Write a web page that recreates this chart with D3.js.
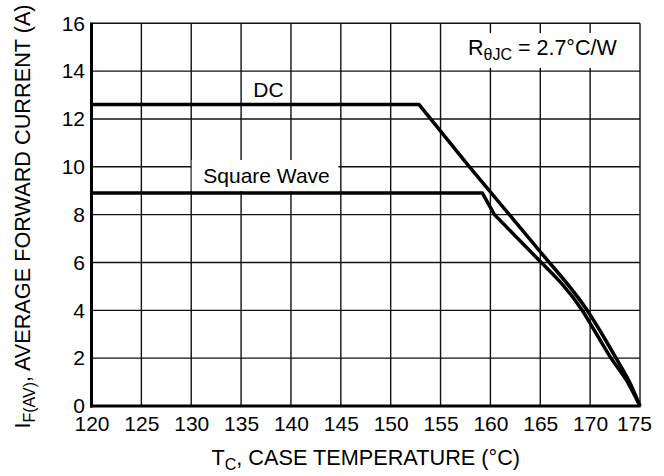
<!DOCTYPE html>
<html>
<head>
<meta charset="utf-8">
<script src="https://cdn.jsdelivr.net/npm/d3@7"></script>
<style>
  html, body { margin: 0; padding: 0; background: #fff; }
  text { font-family: "Liberation Sans", Arial, sans-serif; fill: #000; }
</style>
</head>
<body>
<div id="chart"></div>
<script>
// values
var xTicks = [120, 125, 130, 135, 140, 145, 150, 155, 160, 165, 170, 175];
var yTicks = [0, 2, 4, 6, 8, 10, 12, 14, 16];

var tempDC = [120, 152.85, 157.9, 161.9, 165.9, 169.7, 171.2, 172.6, 173.95, 175];
var currDC = [12.6, 12.6, 10, 8, 6, 4, 3, 2, 1, 0];

var tempSW = [120, 159.2, 160.4, 165.1, 169.2, 170.65, 172.1, 173.75, 175];
var currSW = [8.9, 8.9, 8, 6, 4, 3, 2, 1, 0];

var w = 664;
var h = 476;
var plotL = 91.5, plotR = 640, plotT = 23.3, plotB = 406;
var fs = '21px';
var fsTitle = '21.7px';
var fsSub = '16px';

var svg = d3.select('#chart')
  .append('svg')
  .attr('width', w)
  .attr('height', h);

var x = d3.scaleLinear().domain([120, 175]).range([plotL, plotR]);
var y = d3.scaleLinear().domain([0, 16]).range([plotB, plotT]);

// grid
svg.append('g')
  .selectAll('line')
  .data(xTicks)
  .enter()
  .append('line')
  .attr('x1', function (d) { return x(d); })
  .attr('x2', function (d) { return x(d); })
  .attr('y1', plotT)
  .attr('y2', plotB)
  .style('stroke', '#111')
  .style('stroke-width', 1.4);

svg.append('g')
  .selectAll('line')
  .data(yTicks)
  .enter()
  .append('line')
  .attr('x1', plotL)
  .attr('x2', plotR)
  .attr('y1', function (d) { return y(d); })
  .attr('y2', function (d) { return y(d); })
  .style('stroke', '#111')
  .style('stroke-width', 1.4);

// white boxes behind labels
var boxes = [
  { x: 460, y: 33, w: 166, h: 35 },
  { x: 191.7, y: 160, w: 146.6, h: 31 },
  { x: 248, y: 78, w: 40, h: 24 }
];
svg.append('g')
  .selectAll('rect')
  .data(boxes)
  .enter()
  .append('rect')
  .attr('x', function (d) { return d.x; })
  .attr('y', function (d) { return d.y; })
  .attr('width', function (d) { return d.w; })
  .attr('height', function (d) { return d.h; })
  .style('fill', '#fff');

// thick left and bottom axes
svg.append('line')
  .attr('x1', plotL).attr('x2', plotL)
  .attr('y1', plotT - 0.7).attr('y2', plotB + 1.5)
  .style('stroke', '#000').style('stroke-width', 3);
svg.append('line')
  .attr('x1', plotL - 1.5).attr('x2', plotR + 0.7)
  .attr('y1', plotB).attr('y2', plotB)
  .style('stroke', '#000').style('stroke-width', 3);

// curves: straight up to the 6 A point, smooth tail after it
var straight = d3.line()
  .x(function (d) { return x(d[0]); })
  .y(function (d) { return y(d[1]); });
var smooth = d3.line()
  .x(function (d) { return x(d[0]); })
  .y(function (d) { return y(d[1]); })
  .curve(d3.curveMonotoneX);

var series = [
  { pts: d3.zip(tempDC, currDC), k: 4 },
  { pts: d3.zip(tempSW, currSW), k: 3 }
];

svg.selectAll('path.curve')
  .data(series)
  .enter()
  .append('path')
  .attr('class', 'curve')
  .attr('d', function (d) {
    var head = straight(d.pts.slice(0, d.k + 1));
    var tail = smooth(d.pts.slice(d.k)).replace(/^M[^CL]*/, '');
    return head + tail;
  })
  .style('fill', 'none')
  .style('stroke', '#000')
  .style('stroke-width', 3.5)
  .style('stroke-linejoin', 'round');

// axes labels
var xAxis = d3.axisBottom(x).tickValues(xTicks).tickSize(0).tickPadding(10);
var gx = svg.append('g')
  .attr('transform', 'translate(0,' + plotB + ')')
  .call(xAxis);
gx.select('.domain').remove();
gx.selectAll('text')
  .style('font-size', fs)
  .style('font-family', '"Liberation Sans", Arial, sans-serif')
  .attr('fill', '#000');
gx.selectAll('.tick:last-of-type text').attr('dx', '-6');

var yAxis = d3.axisLeft(y).tickValues(yTicks).tickSize(0).tickPadding(6.5);
var gy = svg.append('g')
  .attr('transform', 'translate(' + plotL + ',0)')
  .call(yAxis);
gy.select('.domain').remove();
gy.selectAll('text')
  .style('font-size', fs)
  .style('font-family', '"Liberation Sans", Arial, sans-serif')
  .attr('fill', '#000');

// series labels
svg.append('text')
  .attr('x', 253.3).attr('y', 96.7)
  .style('font-size', fs)
  .text('DC');
svg.append('text')
  .attr('x', 203.3).attr('y', 183.3)
  .style('font-size', fs)
  .text('Square Wave');

// thermal resistance note
var note = svg.append('text')
  .attr('x', 468).attr('y', 55)
  .style('font-size', '21.5px');
note.append('tspan').text('R');
note.append('tspan').attr('dy', 5).style('font-size', fsSub).text('\u03B8JC');
note.append('tspan').attr('dy', -5).text(' = 2.7\u00B0C/W');

// x title
var xt = svg.append('text')
  .attr('x', (plotL + plotR) / 2).attr('y', 465)
  .attr('text-anchor', 'middle')
  .style('font-size', fsTitle);
xt.append('tspan').text('T');
xt.append('tspan').attr('dy', 5).style('font-size', fsSub).text('C');
xt.append('tspan').attr('dy', -5).text(', CASE TEMPERATURE (\u00B0C)');

// y title
var yt = svg.append('text')
  .attr('transform', 'translate(29.5,216.5) rotate(-90)')
  .attr('text-anchor', 'middle')
  .style('font-size', fsTitle);
yt.append('tspan').text('I');
yt.append('tspan').attr('dy', 5).style('font-size', fsSub).text('F(AV)');
yt.append('tspan').attr('dy', -5).text(', AVERAGE FORWARD CURRENT (A)');
</script>
</body>
</html>
